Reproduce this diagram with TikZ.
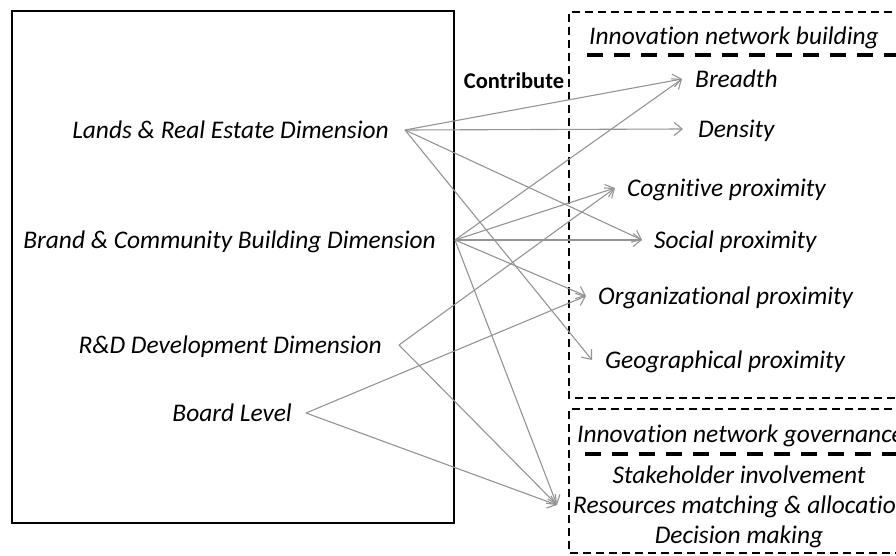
\documentclass[tikz,border=0pt]{standalone}
\usepackage{fontspec}
\setmainfont{Carlito}[Ligatures=NoCommon]
\usetikzlibrary{arrows.meta}
\begin{document}
\begin{tikzpicture}[x=1pt,y=-1pt,
  lbl/.style={font=\fontsize{25.4}{30}\selectfont\itshape, inner ysep=0pt, text height=16.4pt, text depth=0pt},
  src/.style={lbl, anchor=east},
  dst/.style={lbl, anchor=west, inner xsep=13pt},
  link/.style={draw=black!42, line width=1.1pt, -{Straight Barb[length=8pt,width=13pt]}},
  thindash/.style={line width=2pt, dash pattern=on 8pt off 5pt},
  thickdash/.style={line width=3.5pt, dash pattern=on 16pt off 11pt}]
\clip (0,0) rectangle (896,556);

% dimension block
\draw[line width=2pt] (12,11) rectangle (454,523);
\node[src, inner xsep=16pt] (L)  at (405,130) {Lands \& Real Estate  Dimension};
\node[src, inner xsep=19pt] (B)  at (455,240) {Brand \& Community Building Dimension};
\node[src, inner xsep=17pt] (R)  at (399,345) {R\&D Development Dimension};
\node[src, inner xsep=14pt] (Bd) at (306,413) {Board Level};

\node[font=\fontsize{22.5}{26}\selectfont\bfseries, inner sep=0pt, text height=14.5pt, text depth=0pt] (Ctb) at (514,81) {Contribute};

% network building block
\draw[thindash] (905,12) -- (569,12) -- (569,398) -- (905,398);
\draw[thickdash] (587,55) -- (905,55);
\node[lbl] (Bld) at (734,36) {Innovation network building};
\node[dst] (Br) at (682,79) {Breadth};
\node[dst, inner xsep=15pt] (De) at (683,129) {Density};
\node[dst, inner xsep=12pt] (Co) at (615,188) {Cognitive proximity};
\node[dst, inner xsep=12pt] (So) at (642,240) {Social proximity};
\node[dst, inner xsep=12pt] (Or) at (586,296) {Organizational proximity};
\node[dst] (Ge) at (592,360) {Geographical proximity};

% network governance block
\draw[thindash] (905,409) -- (569,409) -- (569,553) -- (905,553);
\draw[thickdash] (585,454) -- (905,454);
\node[lbl, anchor=west, inner xsep=0pt] (Gov) at (577,434) {Innovation network governance};
\node[lbl] (Sh) at (739,475) {Stakeholder involvement};
\node[dst, inner xsep=16pt] (Rm) at (557,505) {Resources matching \& allocation};
\node[lbl] (Dm) at (739,535) {Decision making};

% contributions
\draw[link] (L.east) -- (Br.west);
\draw[link] (L.east) -- (De.west);
\draw[link] (L.east) -- (So.west);
\draw[link] (L.east) -- (Ge.west);
\draw[link] (B.east) -- (Br.west);
\draw[link] (B.east) -- (Co.west);
\draw[link] (B.east) -- (So.west);
\draw[link] (B.east) -- (Or.west);
\draw[link] (B.east) -- (Rm.west);
\draw[link] (R.east) -- (Co.west);
\draw[link] (R.east) -- (Rm.west);
\draw[link] (Bd.east) -- (Or.west);
\draw[link] (Bd.east) -- (Rm.west);
\end{tikzpicture}
\end{document}
